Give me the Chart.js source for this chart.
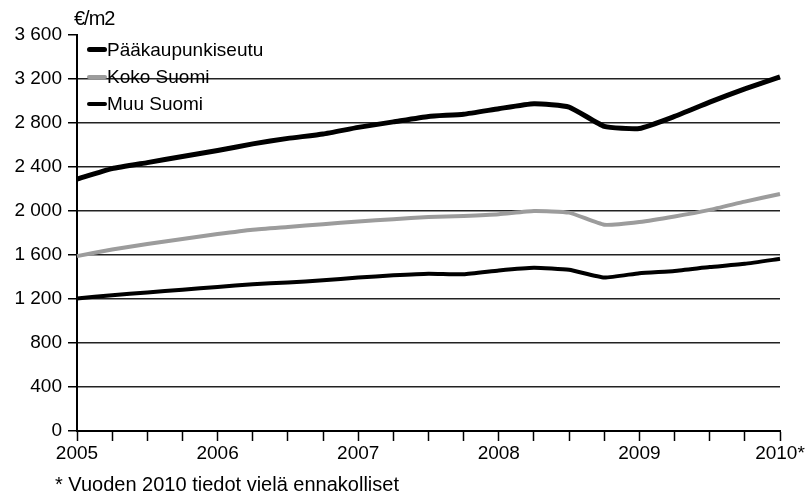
<!DOCTYPE html>
<html>
<head>
<meta charset="utf-8">
<script src="https://cdn.jsdelivr.net/npm/chart.js@4.4.1/dist/chart.umd.min.js"></script>
<style>
  body { margin: 0; background: #fff; font-family: "Liberation Sans", Arial, sans-serif; }
  #wrap { position: relative; width: 807px; height: 495px; }
  #unit { position: absolute; left: 74px; top: 7px; font-size: 20px; letter-spacing: -1px; color: #000; }
  #note { position: absolute; left: 55px; top: 473px; font-size: 20px; color: #000; white-space: nowrap; }
  #legend { position: absolute; left: 87px; top: 36px; }
  .item { height: 27px; display: flex; align-items: center; font-size: 19px; color: #000; }
  .swatch { width: 20px; border-radius: 3px; }
</style>
</head>
<body>
<div id="wrap">
  <canvas id="chart" width="807" height="495"></canvas>
  <div id="unit">€/m2</div>
  <div id="legend"></div>
  <div id="note">* Vuoden 2010 tiedot vielä ennakolliset</div>
</div>
<script>
// quarterly, 2005 Q1 ... 2010 Q1
const quarters = [
  "2005", "", "", "",
  "2006", "", "", "",
  "2007", "", "", "",
  "2008", "", "", "",
  "2009", "", "", "",
  "2010*"
];

const seriesNames = ["Pääkaupunkiseutu", "Koko Suomi", "Muu Suomi"];

const paakaupunkiseutu = [
  2290, 2385, 2440, 2495, 2550, 2610, 2660, 2700, 2760, 2810,
  2860, 2880, 2930, 2975, 2945, 2770, 2750, 2860, 2990, 3110, 3220
];
const kokoSuomi = [
  1590, 1650, 1700, 1745, 1790, 1830, 1855, 1880, 1905, 1925,
  1945, 1955, 1970, 2000, 1985, 1875, 1900, 1950, 2010, 2085, 2155
];
const muuSuomi = [
  1205, 1235, 1260, 1285, 1310, 1335, 1350, 1370, 1395, 1415,
  1430, 1425, 1460, 1485, 1465, 1395, 1435, 1455, 1490, 1520, 1565
];

const colors = ["#000000", "#9c9c9c", "#000000"];
const widths = [5, 4, 4];

function fmt(v) {
  // thousands with a space
  const s = String(v);
  return s.length > 3 ? s.slice(0, s.length - 3) + " " + s.slice(-3) : s;
}

const fontSpec = { family: "'Liberation Sans', Arial, sans-serif", size: 19 };

const datasets = [paakaupunkiseutu, kokoSuomi, muuSuomi].map((data, i) => ({
  label: seriesNames[i],
  data: data,
  borderColor: colors[i],
  borderWidth: widths[i],
  pointRadius: 0,
  tension: 0.15,
  fill: false
}));

// legend in the top left corner of the plot
const legend = document.getElementById("legend");
seriesNames.forEach((name, i) => {
  const row = document.createElement("div");
  row.className = "item";
  row.innerHTML = `<span class="swatch" style="height:${widths[i]}px;background:${colors[i]}"></span><span>${name}</span>`;
  legend.appendChild(row);
});

new Chart(document.getElementById("chart"), {
  type: "line",
  data: { labels: quarters, datasets: datasets },
  options: {
    responsive: false,
    animation: false,
    layout: { padding: { top: 35, right: 27, bottom: 0, left: 0 } },
    plugins: { legend: { display: false }, tooltip: { enabled: false } },
    scales: {
      x: {
        offset: false,
        grid: { drawOnChartArea: false, drawTicks: true, tickLength: 10, tickColor: "#000", tickWidth: 1.5 },
        border: { color: "#000", width: 2 },
        ticks: {
          autoSkip: false,
          maxRotation: 0,
          padding: 1,
          color: "#000",
          font: fontSpec
        },
        afterFit: (scale) => { scale.height = 64; }
      },
      y: {
        min: 0,
        max: 3600,
        grid: {
          color: (ctx) => (ctx.tick && ctx.tick.value === 3600 ? "rgba(0,0,0,0)" : "#222"),
          lineWidth: 1.5,
          tickLength: 9,
          tickColor: "#000",
          tickWidth: 1.5
        },
        border: { color: "#000", width: 2 },
        ticks: {
          stepSize: 400,
          padding: 6,
          color: "#000",
          font: fontSpec,
          callback: (v) => fmt(v)
        },
        afterFit: (scale) => { scale.width = 77; }
      }
    }
  }
});
</script>
</body>
</html>
